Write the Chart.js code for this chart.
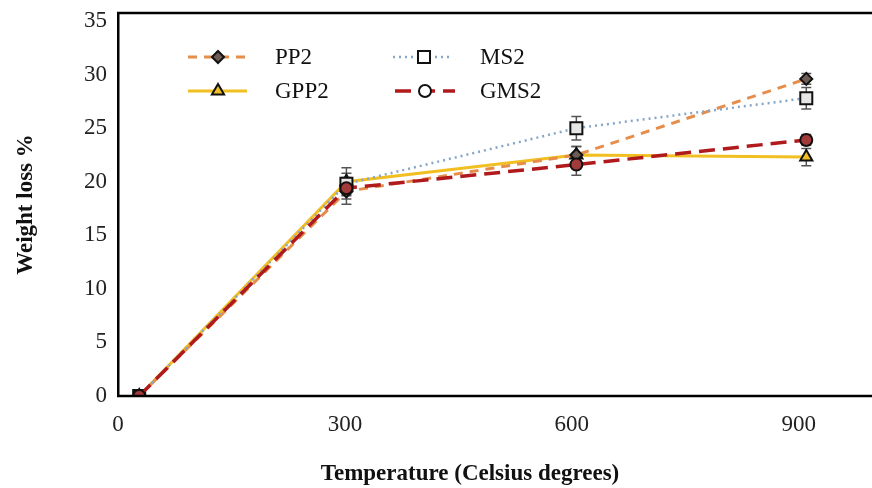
<!DOCTYPE html>
<html>
<head>
<meta charset="utf-8">
<script src="https://cdn.jsdelivr.net/npm/chart.js@4"></script>
<style>
  html, body { margin: 0; padding: 0; background: #fff; overflow: hidden; }
  canvas { display: block; }
</style>
</head>
<body>
<canvas id="lossChart" width="872" height="488"></canvas>
<script>
// temperatures (deg C) as placed on the axis
const temps = [28, 302, 606, 910];
const xTicks = [0, 300, 600, 900];
const yTicks = [0, 5, 10, 15, 20, 25, 30, 35];

// weight loss % per sample
const pp2 = [0, 19.1, 22.5, 29.6];
const ms2 = [0, 19.8, 25.0, 27.8];
const gpp2 = [0, 20.0, 22.5, 22.3];
const gms2 = [0, 19.4, 21.6, 23.9];

// error bar half-heights
const errPP2 = [0, 1.2, 0.8, 0.5];
const errMS2 = [0, 1.0, 1.1, 1.0];
const errGPP2 = [0, 1.3, 0.8, 0.8];
const errGMS2 = [0, 1.0, 1.0, 0.5];

const serif = "'Liberation Serif', 'Times New Roman', serif";

const series = [
    { label: 'PP2', data: pp2, err: errPP2, color: '#E58E4C', dash: [9, 7], width: 3,
      point: 'rectRot', radius: 6, fill: '#6E5C54', order: 3 },
    { label: 'MS2', data: ms2, err: errMS2, color: '#86A6C8', dash: [2, 4], width: 2.5,
      point: 'rect', radius: 8.5, fill: '#E6E6E6', order: 2 },
    { label: 'GPP2', data: gpp2, err: errGPP2, color: '#F2BF22', dash: [], width: 3,
      point: 'triangle', radius: 7, fill: '#F2BF22', order: 4 },
    { label: 'GMS2', data: gms2, err: errGMS2, color: '#B01A1C', dash: [16, 8], width: 3.5,
      point: 'circle', radius: 6, fill: '#A33A3A', order: 1 }
];

const datasets = series.map(s => ({
    label: s.label,
    data: temps.map((t, i) => ({ x: t, y: s.data[i] })),
    borderColor: s.color,
    borderWidth: s.width,
    borderDash: s.dash,
    pointStyle: s.point,
    pointRadius: s.radius,
    pointBackgroundColor: s.fill,
    pointBorderColor: '#111',
    pointBorderWidth: 2,
    tension: 0,
    order: s.order
}));

function drawMarker(ctx, style, x, y, r, fill) {
    ctx.save();
    ctx.fillStyle = fill;
    ctx.strokeStyle = '#111';
    ctx.lineWidth = 2;
    ctx.setLineDash([]);
    ctx.beginPath();
    if (style === 'circle') {
        ctx.arc(x, y, r, 0, Math.PI * 2);
    } else if (style === 'rect') {
        const s = r * Math.SQRT1_2;
        ctx.rect(x - s, y - s, 2 * s, 2 * s);
    } else if (style === 'rectRot') {
        ctx.moveTo(x, y - r); ctx.lineTo(x + r, y); ctx.lineTo(x, y + r); ctx.lineTo(x - r, y);
        ctx.closePath();
    } else if (style === 'triangle') {
        ctx.moveTo(x, y - r); ctx.lineTo(x + r * 0.87, y + r * 0.5); ctx.lineTo(x - r * 0.87, y + r * 0.5);
        ctx.closePath();
    }
    ctx.fill();
    ctx.stroke();
    ctx.restore();
}

// error bars, drawn under the markers
const errorBars = {
    id: 'errorBars',
    beforeDatasetsDraw(chart) {
        const { ctx, scales: { x, y } } = chart;
        ctx.save();
        ctx.strokeStyle = '#555';
        ctx.lineWidth = 1.5;
        series.forEach(s => {
            temps.forEach((t, i) => {
                const e = s.err[i];
                if (!e) return;
                const px = x.getPixelForValue(t);
                const top = y.getPixelForValue(s.data[i] + e);
                const bot = y.getPixelForValue(s.data[i] - e);
                ctx.beginPath();
                ctx.moveTo(px, top); ctx.lineTo(px, bot);
                ctx.moveTo(px - 5, top); ctx.lineTo(px + 5, top);
                ctx.moveTo(px - 5, bot); ctx.lineTo(px + 5, bot);
                ctx.stroke();
            });
        });
        ctx.restore();
    }
};

// frame lines, legend and x title
const decorations = {
    id: 'decorations',
    afterDraw(chart) {
        const { ctx, chartArea } = chart;
        ctx.save();
        ctx.strokeStyle = '#000';
        ctx.lineWidth = 2.5;
        ctx.beginPath();
        ctx.moveTo(chartArea.left - 1, chartArea.top);
        ctx.lineTo(chart.width, chartArea.top);
        // x axis line runs to the right edge
        ctx.moveTo(chartArea.left - 1, chartArea.bottom);
        ctx.lineTo(chart.width, chartArea.bottom);
        ctx.stroke();

        const spots = [
            { x1: 188, x2: 247, mx: 218, y: 57, tx: 275 },
            { x1: 393, x2: 452, mx: 424, y: 57, tx: 480 },
            { x1: 188, x2: 247, mx: 218, y: 91, tx: 275 },
            { x1: 395, x2: 455, mx: 425, y: 91, tx: 480 }
        ];
        series.forEach((s, i) => {
            const p = spots[i];
            ctx.strokeStyle = s.color;
            ctx.lineWidth = s.width;
            ctx.setLineDash(s.dash);
            ctx.beginPath();
            ctx.moveTo(p.x1, p.y); ctx.lineTo(p.x2, p.y);
            ctx.stroke();
            ctx.setLineDash([]);
            drawMarker(ctx, s.point, p.mx, p.y, s.radius, s.label === 'GMS2' || s.label === 'MS2' ? '#fff' : s.fill);
            ctx.fillStyle = '#111';
            ctx.font = '23px ' + serif;
            ctx.textAlign = 'left';
            ctx.textBaseline = 'middle';
            ctx.fillText(s.label, p.tx, p.y + 1);
        });

        ctx.font = 'bold 23px ' + serif;
        ctx.textAlign = 'center';
        ctx.textBaseline = 'middle';
        ctx.fillStyle = '#111';
        ctx.fillText('Temperature (Celsius degrees)', 470, 474);
        ctx.restore();
    }
};

new Chart(document.getElementById('lossChart'), {
    type: 'line',
    data: { datasets: datasets },
    options: {
        responsive: false,
        animation: false,
        events: [],
        layout: { padding: { top: 13, right: 0, bottom: 0, left: 0 } },
        plugins: { legend: { display: false }, tooltip: { enabled: false } },
        scales: {
            x: {
                type: 'linear',
                min: 0,
                max: 983,
                afterBuildTicks: axis => { axis.ticks = xTicks.map(v => ({ value: v })); },
                afterFit: axis => {
                    axis.height = 92;
                    axis.paddingLeft = 0; axis.paddingRight = 0;
                },
                grid: { display: false, drawTicks: false },
                border: { display: false },
                ticks: { color: '#222', padding: 15, font: { family: serif, size: 23 } }
            },
            y: {
                min: 0,
                max: 35.75,
                afterBuildTicks: axis => { axis.ticks = yTicks.map(v => ({ value: v })); },
                afterFit: axis => {
                    axis.width = 118;
                    axis.paddingTop = 0; axis.paddingBottom = 0;
                },
                grid: { display: false, drawTicks: false },
                border: { display: true, color: '#000', width: 2.5 },
                ticks: { color: '#222', padding: 11, font: { family: serif, size: 23 } },
                title: {
                    display: true,
                    text: 'Weight loss %',
                    color: '#111',
                    padding: { top: 12, bottom: 0 },
                    font: { family: serif, size: 23, weight: 'bold' }
                }
            }
        }
    },
    plugins: [errorBars, decorations]
});
</script>
</body>
</html>
